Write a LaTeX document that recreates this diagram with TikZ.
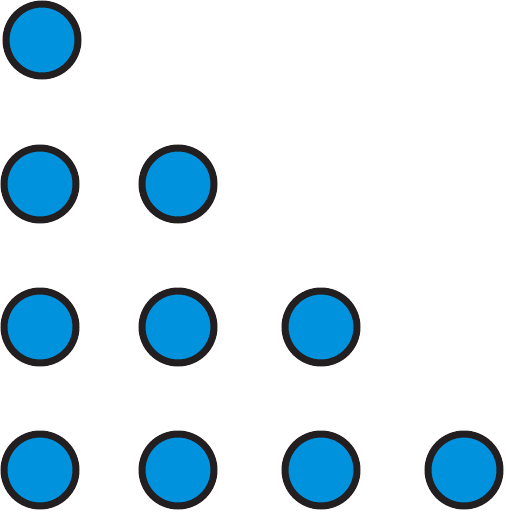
\documentclass[tikz,border=0pt]{standalone}
\definecolor{dotblue}{HTML}{0092DD}
\definecolor{rim}{HTML}{231F20}
\begin{document}
\begin{tikzpicture}[x=1pt,y=-1pt,
  dot/.style={circle,draw=rim,fill=dotblue,line width=7pt,minimum size=72pt,inner sep=0pt}]
\useasboundingbox (0,0) rectangle (506,512);
\node[dot] (a1) at (42,40) {};
\node[dot] (b1) at (40,184) {};
\node[dot] (b2) at (178,184) {};
\node[dot] (c1) at (40,327) {};
\node[dot] (c2) at (178,327) {};
\node[dot] (c3) at (321,327) {};
\node[dot] (d1) at (40,470) {};
\node[dot] (d2) at (178,470) {};
\node[dot] (d3) at (321,470) {};
\node[dot] (d4) at (464,470) {};
\end{tikzpicture}
\end{document}
